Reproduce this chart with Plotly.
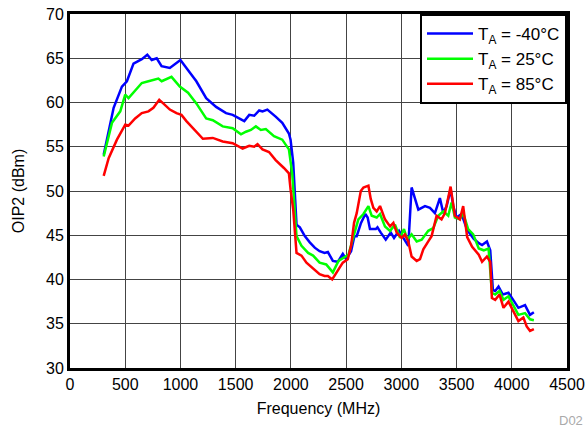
import plotly.graph_objects as go

# Frequency (MHz) / OIP2 (dBm)
freq_m40 = [305, 395, 470, 515, 575, 650, 700, 740, 785, 829, 904, 1000, 1054, 1144, 1233, 1323, 1413, 1473,
            1578, 1623, 1668, 1713, 1743, 1787, 1862, 1922, 1982, 1997, 2021, 2051, 2081, 2126, 2171, 2216,
            2260, 2305, 2335, 2380, 2425, 2470, 2500, 2545, 2575, 2596, 2635, 2674, 2695, 2716, 2769, 2784,
            2814, 2859, 2904, 2934, 2979, 3024, 3063, 3093, 3154, 3214, 3259, 3304, 3349, 3380, 3410, 3446,
            3470, 3500, 3545, 3596, 3656, 3701, 3731, 3775, 3805, 3829, 3850, 3880, 3919, 3970, 4015, 4060,
            4120, 4165, 4200]
oip2_m40 = [54.1, 59.4, 61.8, 62.4, 64.4, 64.9, 65.4, 64.8, 65.0, 64.1, 63.9, 64.8, 63.9, 62.4, 60.5, 59.5, 58.8, 58.6,
            57.9, 58.6, 58.5, 59.1, 59.0, 59.2, 58.4, 57.7, 56.5, 55.8, 53.2, 46.2, 45.9, 44.9, 44.2, 43.6,
            43.2, 43.0, 43.1, 42.1, 42.0, 42.9, 42.3, 43.2, 44.9, 44.9, 46.4, 47.4, 47.0, 45.7, 45.7, 45.9,
            45.3, 44.5, 45.3, 44.7, 45.5, 44.5, 43.8, 50.4, 47.9, 48.3, 48.1, 47.5, 49.2, 47.5, 48.3, 50.2,
            48.3, 47.0, 47.4, 45.6, 44.6, 44.1, 43.9, 44.3, 43.3, 38.8, 38.7, 39.2, 38.3, 38.5, 37.7, 36.8,
            37.1, 36.0, 36.3]

freq_25 = [305, 380, 455, 500, 530, 590, 650, 710, 770, 800, 830, 919, 994, 1069, 1144, 1233, 1293, 1383, 1473,
           1548, 1593, 1638, 1683, 1728, 1773, 1847, 1922, 1982, 2012, 2027, 2051, 2096, 2156, 2201, 2260,
           2320, 2380, 2431, 2521, 2581, 2611, 2657, 2702, 2732, 2777, 2807, 2852, 2898, 2943, 2988, 3024,
           3054, 3093, 3139, 3184, 3244, 3289, 3334, 3380, 3425, 3455, 3485, 3530, 3560, 3605, 3651, 3701,
           3746, 3790, 3820, 3850, 3889, 3925, 3970, 4015, 4060, 4120, 4165, 4200]
oip2_25 = [53.9, 57.7, 59.0, 60.9, 60.5, 61.4, 62.2, 62.4, 62.6, 62.7, 62.4, 62.9, 61.8, 61.1, 59.9, 58.2, 58.0, 57.3, 57.1,
           56.4, 56.7, 56.9, 57.3, 56.9, 57.0, 56.2, 55.8, 54.7, 52.0, 49.4, 44.9, 43.8, 43.0, 42.7, 41.9,
           41.7, 40.8, 42.1, 42.8, 45.5, 46.8, 47.4, 48.3, 47.2, 47.0, 47.4, 46.0, 45.5, 46.2, 44.7, 45.7,
           44.5, 45.1, 44.3, 44.5, 45.5, 45.8, 47.2, 47.7, 47.2, 48.7, 47.0, 46.8, 47.5, 45.7, 45.1, 43.5,
           43.3, 43.5, 38.5, 38.3, 38.7, 37.7, 38.1, 37.0, 36.0, 36.2, 35.5, 35.4]

freq_85 = [305, 350, 425, 500, 530, 590, 650, 710, 755, 808, 844, 904, 964, 1009, 1054, 1144, 1203, 1293, 1383,
           1473, 1563, 1623, 1668, 1698, 1743, 1802, 1862, 1937, 1982, 1997, 2021, 2051, 2096, 2141, 2201,
           2260, 2305, 2335, 2374, 2425, 2470, 2515, 2545, 2572, 2596, 2633, 2657, 2702, 2723, 2747, 2777,
           2807, 2852, 2898, 2928, 2958, 3003, 3033, 3063, 3093, 3139, 3169, 3199, 3244, 3274, 3319, 3364,
           3395, 3446, 3485, 3530, 3560, 3596, 3641, 3701, 3731, 3775, 3805, 3820, 3850, 3889, 3925, 3970,
           4015, 4060, 4105, 4135, 4165, 4200]
oip2_85 = [51.7, 53.7, 55.8, 57.5, 57.4, 58.2, 58.8, 59.0, 59.4, 60.3, 59.9, 59.2, 58.8, 58.6, 57.9, 56.7, 55.9, 56.0, 55.6,
           55.4, 54.8, 55.1, 55.0, 55.3, 54.7, 54.4, 53.5, 52.6, 52.0, 50.2, 47.9, 43.0, 42.7, 41.9, 41.2,
           40.6, 40.4, 40.4, 40.0, 41.0, 41.9, 42.3, 43.8, 46.4, 47.5, 50.0, 50.4, 50.6, 49.1, 48.1, 47.7,
           48.3, 46.8, 46.0, 46.4, 45.3, 44.7, 45.1, 44.3, 42.6, 42.1, 42.3, 43.4, 44.3, 44.9, 47.2, 46.8,
           47.5, 50.5, 47.2, 46.8, 48.3, 44.8, 43.7, 42.8, 42.0, 42.6, 42.0, 37.9, 37.7, 38.3, 36.8, 37.5,
           36.4, 35.3, 35.7, 34.7, 34.2, 34.4]

series = [
    ("T<sub>A</sub> = -40°C", freq_m40, oip2_m40, "#0000FF"),
    ("T<sub>A</sub> = 25°C", freq_25, oip2_25, "#00FF00"),
    ("T<sub>A</sub> = 85°C", freq_85, oip2_85, "#FF0000"),
]

x_ticks = [0, 500, 1000, 1500, 2000, 2500, 3000, 3500, 4000, 4500]
y_ticks = [30, 35, 40, 45, 50, 55, 60, 65, 70]

fig = go.Figure()
for name, fx, fy, col in series:
    fig.add_trace(go.Scatter(x=fx, y=fy, mode="lines", name=name,
                             line=dict(color=col, width=2.5)))

FAM = "Liberation Sans, Arial, sans-serif"
fig.update_layout(
    width=588, height=427,
    margin=dict(l=70, r=21, t=14, b=59, autoexpand=False),
    paper_bgcolor="white", plot_bgcolor="white",
    font=dict(family=FAM, size=16, color="#000"),
    showlegend=True,
    legend=dict(x=1, xanchor="right", y=1, yanchor="top",
                bordercolor="#000", borderwidth=2, bgcolor="white",
                font=dict(family=FAM, size=17, color="#000"),
                tracegroupgap=0, itemwidth=46),
    xaxis=dict(range=[0, 4500], tickvals=x_ticks, ticktext=[str(v) for v in x_ticks],
               showgrid=True, gridcolor="#444", gridwidth=1, zeroline=False, automargin=False,
               showline=True, linecolor="#000", linewidth=3, mirror=True, ticks="",
               ticklabeloverflow="allow",
               title=dict(text="Frequency (MHz)", standoff=11, font=dict(size=16)),
               tickfont=dict(size=16)),
    yaxis=dict(range=[30, 70], tickvals=y_ticks, ticktext=[str(v) for v in y_ticks],
               showgrid=True, gridcolor="#444", gridwidth=1, zeroline=False, automargin=False,
               showline=True, linecolor="#000", linewidth=3, mirror=True, ticks="",
               ticklabeloverflow="allow",
               title=dict(text="OIP2 (dBm)", standoff=18, font=dict(size=16)),
               tickfont=dict(size=16)),
)
fig.add_annotation(text="D02", xref="paper", yref="paper", x=1.036, y=-0.147,
                   xanchor="right", yanchor="middle", showarrow=False,
                   font=dict(size=13, color="#aaa"))
# remove the default 8px page margin so the figure sits at the window's top-left
fig.write_html("out.html", config={"displayModeBar": False},
               post_script="document.body.style.margin='0';")
